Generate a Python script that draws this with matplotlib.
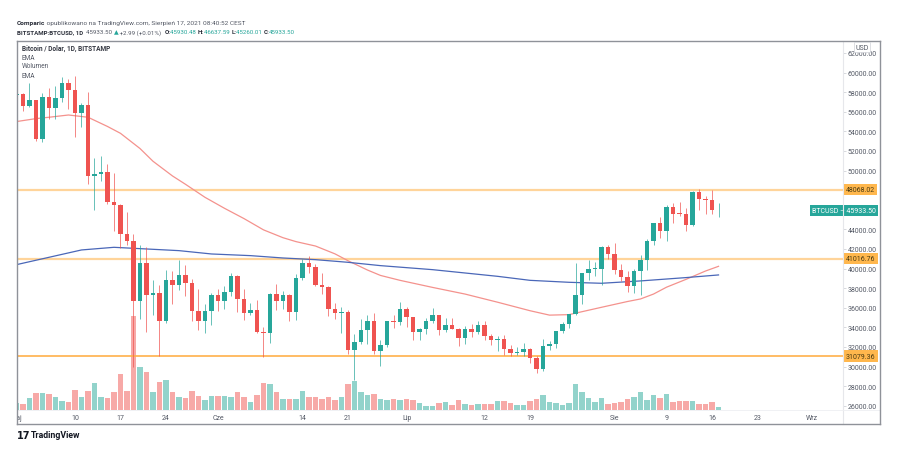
import matplotlib
matplotlib.use('Agg')
import matplotlib.pyplot as plt
from matplotlib.patches import Rectangle
from matplotlib.lines import Line2D
import matplotlib.transforms as mtransforms

# ---------------- data (daily BTCUSD, 1 May 2021 = day 0 ... 17 Aug 2021 = day 108)
opens = [57750, 57830, 56580, 57150, 53240, 57500, 56400, 57400, 58900, 58270,
         55880, 56720, 49400, 49700, 49900, 46750, 46450, 43550, 42850, 36700,
         40600, 37300, 37500, 34700, 38800, 38350, 39300, 38500, 35700, 34650,
         35700, 37330, 36700, 37570, 39200, 36870, 35500, 35800, 33570, 33400,
         37400, 36700, 37340, 35550, 39020, 40520, 40150, 38350, 38100, 35830,
         35500, 35600, 31650, 32500, 33700, 34700, 31600, 32250, 34700, 34500,
         35900, 35050, 33540, 33800, 34700, 35300, 33700, 34200, 33870, 32900,
         33800, 33500, 34280, 33100, 32700, 32800, 31800, 31400, 31500, 31780,
         30830, 29800, 32150, 32300, 33600, 34300, 35400, 37300, 39500, 40000,
         40000, 42200, 41500, 39850, 39150, 38200, 39750, 40850, 42800, 44600,
         43800, 46300, 45600, 45550, 44400, 47800, 47100, 47000, 45930]
highs = [58500, 57950, 58950, 57200, 57950, 58400, 58650, 59500, 59300, 59600,
         56900, 58000, 51300, 51500, 50700, 49800, 46600, 45800, 43550, 42450,
         42200, 38850, 38300, 39850, 39800, 40850, 40400, 38900, 37900, 36400,
         37500, 37900, 38200, 39500, 39300, 37900, 36450, 36800, 34000, 37500,
         38400, 37700, 37450, 39400, 41000, 41300, 40500, 39500, 38200, 36450,
         36100, 35750, 33300, 34850, 35250, 35500, 32700, 34700, 35300, 36600,
         36100, 35100, 33950, 34950, 35950, 35300, 35000, 35000, 33900, 34100,
         34300, 34650, 34700, 33350, 33100, 33200, 32250, 31950, 32400, 31900,
         31050, 32850, 32600, 33650, 34500, 35400, 40550, 39550, 40900, 40650,
         42300, 42450, 42600, 40450, 39800, 39950, 41400, 43000, 44700, 45300,
         46450, 46700, 46800, 46200, 47900, 48150, 47400, 48050, 46640]
lows = [57050, 56050, 56500, 53000, 52900, 55300, 55300, 56950, 56300, 53450,
        54400, 48600, 46000, 48900, 46600, 43850, 42150, 42400, 30000, 34900,
        33500, 35300, 31100, 34400, 36400, 37800, 37200, 34700, 33700, 33400,
        34200, 35700, 35900, 37200, 35600, 34800, 35300, 33400, 31000, 32400,
        35800, 35900, 34600, 34750, 38800, 39500, 38200, 37400, 35150, 34850,
        33400, 31300, 28600, 32300, 32300, 31300, 30100, 32000, 33900, 34250,
        34000, 32700, 32700, 33350, 34400, 33200, 33500, 33800, 32100, 32300,
        33050, 33350, 32700, 32250, 31600, 31150, 31050, 31200, 31100, 30400,
        29300, 29500, 31700, 31900, 33400, 33900, 35300, 36400, 38800, 39200,
        38300, 41000, 39400, 38700, 37600, 37500, 37300, 39900, 42450, 43150,
        42800, 44600, 45400, 43800, 44300, 45950, 45600, 45600, 45260]
closes = opens[1:] + [45933.50]
volumes = [2920, 2400, 4680, 6920, 6920, 6520, 5320, 3720, 3320, 8000,
           5320, 7720, 10800, 5080, 4680, 7080, 14520, 7600, 37480, 17080,
           15320, 7080, 11080, 12120, 7080, 5320, 4920, 7600, 5720, 4000,
           5480, 5480, 5480, 5320, 7080, 5080, 3320, 6000, 10800, 10280,
           7080, 4520, 4520, 4400, 7600, 5080, 5080, 4520, 5320, 4120,
           5080, 10280, 11600, 7320, 5880, 6280, 4280, 4120, 4280, 4120,
           4280, 4120, 2680, 1720, 1720, 2920, 3080, 2120, 3880, 2280,
           2000, 2280, 2520, 2520, 3480, 3480, 2680, 2120, 2000, 3480,
           4280, 6120, 3080, 2800, 2120, 2800, 10400, 7200, 4920, 3080,
           4680, 2280, 2800, 3200, 4280, 5080, 7080, 4000, 6120, 4680,
           6280, 3320, 3600, 3480, 3720, 2520, 2400, 3200, 1200]

# EMA readings (day index, price)
ema_fast_days = [0, 3, 5, 8, 11, 14, 16, 19, 21, 24, 26, 29, 32, 35, 38, 41, 43,
                 46, 49, 51, 54, 56, 59, 64, 69, 74, 79, 82, 85, 88, 90, 94, 96,
                 98, 100, 103, 106, 108]
ema_fast = [55000, 55300, 55440, 55670, 55440, 54500, 53800, 52250, 50950, 49450,
            48600, 47270, 46150, 45100, 43950, 43150, 42750, 42300, 41500, 40800,
            39850, 39300, 38800, 38080, 37400, 36570, 35700, 35250, 35300, 35750,
            36050, 36640, 36900, 37400, 38100, 38900, 39750, 40230]
ema_slow_days = [0, 5, 10, 15, 20, 25, 30, 36, 41, 46, 51, 56, 64, 69, 74, 79,
                 85, 90, 96, 103, 108]
ema_slow = [40400, 41150, 41900, 42170, 42000, 41830, 41490, 41320, 41080, 40910,
            40640, 40300, 39890, 39550, 39210, 38800, 38600, 38500, 38740, 39080,
            39350]

levels = [48068.02, 41016.76, 31079.36]
price_ticks = [26000, 28000, 30000, 32000, 34000, 36000, 38000, 40000, 42000,
               44000, 50000, 52000, 54000, 56000, 58000, 60000, 62000]
date_tick_days = [0, 9, 16, 23, 31, 44, 51, 60.1, 72, 79, 92, 100, 107, 114, 122.4]
date_tick_labels = ['Maj', '10', '17', '24', 'Cze', '14', '21', 'Lip', '12', '19',
                    'Sie', '9', '16', '23', 'Wrz']
last_price = 45933.50

# ---------------- styling
UP = '#26a69a'
DN = '#ef5350'
UPV = '#92d3cb'
DNV = '#f7a9a7'
FONT = ['Roboto', 'DejaVu Sans']
plt.rcParams['font.family'] = FONT

W, H = 910, 477
fig = plt.figure(figsize=(W / 100, H / 100), dpi=100)
fig.patch.set_facecolor('white')


def rect(l, t, r, b):
    return [l / W, 1 - b / H, (r - l) / W, (b - t) / H]


PL, PT, PR, PB = 17, 42, 843, 411
xlim = (0.08, 127.15)
ylim = (25570, 63220)

ax_vol = fig.add_axes(rect(PL, PT, PR, PB))
ax = fig.add_axes(rect(PL, PT, PR, PB), sharex=ax_vol)
for a in (ax_vol, ax):
    a.set_xlim(*xlim)
    for s in a.spines.values():
        s.set_visible(False)
ax.patch.set_visible(False)
ax_vol.set_ylim(0, max(volumes) * 3.94)
ax_vol.set_yticks([])
ax_vol.tick_params(bottom=False, labelbottom=False)
ax.tick_params(bottom=False, labelbottom=False)
ax.set_ylim(*ylim)

n = len(opens)
days = list(range(n))
# volume
vcols = [UPV if c >= o else DNV for o, c in zip(opens, closes)]
ax_vol.bar(days, volumes, width=0.86, color=vcols, linewidth=0)

# EMAs
ax.plot(ema_fast_days, ema_fast, color='#f4928d', lw=0.9, zorder=2, solid_joinstyle='round')
ax.plot(ema_slow_days, ema_slow, color='#4a67b8', lw=0.9, zorder=2, solid_joinstyle='round')

# levels
for k, lv in enumerate(levels):
    col = '#ffd49a' if k < 2 else '#ffb04a'
    ax.axhline(lv, color=col, lw=1.6 if k < 2 else 1.2, zorder=1)

# candles
for i in days:
    o, h, l, c = opens[i], highs[i], lows[i], closes[i]
    col = UP if c >= o else DN
    ax.vlines(i, l, h, color=col, lw=0.7, alpha=0.7, zorder=3)
    lo = min(o, c)
    ht = max(abs(c - o), 90)
    ax.add_patch(Rectangle((i - 0.36, lo), 0.72, ht, facecolor=col, edgecolor='none', zorder=4))

# price scale on right
ax.yaxis.tick_right()
ax.set_yticks(price_ticks)
ax.set_yticklabels([f'{p:.2f}' for p in price_ticks])
ax.tick_params(axis='y', length=2, width=0.5, color='#c8cad0', pad=1.5,
               labelsize=5, labelcolor='#555a66')

# level labels
trans = mtransforms.blended_transform_factory(fig.transFigure, ax.transData)
for k, lv in enumerate(levels):
    ax.text(846 / W, lv, f'{lv:.2f}', transform=trans, ha='left', va='center',
            fontsize=5, color='#4a3b12', zorder=10, clip_on=False,
            bbox=dict(boxstyle='square,pad=0.3', fc='#ffb74d', ec='none'))
ax.text(875.5 / W, last_price, f'BTCUSD \u2013 {last_price:.2f}', transform=trans,
        ha='right', va='center', fontsize=5, color='white', zorder=10, clip_on=False,
        bbox=dict(boxstyle='square,pad=0.3', fc=UP, ec='none'))

# USD label
fig.text(862 / W, 1 - 48 / H, 'USD', fontsize=5, color='#555a66', ha='center', va='center',
         bbox=dict(boxstyle='square,pad=0.25', fc='white', ec='#d0d2d8', lw=0.5))

# time axis strip
ax_t = fig.add_axes(rect(PL, PB, PR, 425), sharex=ax_vol)
ax_t.set_xlim(*xlim)
ax_t.set_ylim(0, 1)
ax_t.axis('off')
for d, lab in zip(date_tick_days, date_tick_labels):
    ax_t.text(d, 0.45, lab, ha='center', va='center', fontsize=5, color='#555a66', clip_on=True)

# separators and frame
def fline(x0, y0, x1, y1, color, lw):
    fig.add_artist(Line2D([x0 / W, x1 / W], [1 - y0 / H, 1 - y1 / H], transform=fig.transFigure,
                          color=color, lw=lw))

fline(PR, PT, PR, 425, '#e6e7eb', 0.8)
fline(PL, PB, 880, PB, '#eeeff2', 0.6)
fline(PL, PT, 880, PT, '#8f9299', 1.0)
fline(PL, 425, 880, 425, '#8f9299', 1.0)
fline(PL, PT, PL, 425, '#8f9299', 1.0)
fline(880, PT, 880, 425, '#8f9299', 1.0)

# legend inside pane
fig.text(22 / W, 1 - 49 / H, 'Bitcoin / Dolar, 1D, BITSTAMP', fontsize=4.7, fontweight='bold',
         color='#333640', va='center')
for yy, t in [(58, 'EMA'), (67, 'Wolumen'), (77, 'EMA')]:
    fig.text(22 / W, 1 - yy / H, t, fontsize=4.7, color='#555a66', va='center')

# header text pieces
fig.canvas.draw()
rend = fig.canvas.get_renderer()


def pieces(x_px, y_px, parts, fs):
    x = x_px
    for txt, col, wt in parts:
        t = fig.text(x / W, 1 - y_px / H, txt, fontsize=fs, color=col, fontweight=wt,
                     va='center', ha='left')
        bb = t.get_window_extent(renderer=rend)
        x += bb.width


pieces(17, 24, [('Comparic', '#2a2e39', 'bold'),
                (' opublikowano na TradingView.com, Sierpie\u0144 17, 2021 08:40:52 CEST', '#555a66', 'normal')],
       4.65)
pieces(17, 33, [('BITSTAMP:BTCUSD, 1D', '#2a2e39', 'bold'),
                ('  45933.50 ', '#555a66', 'normal'), ('\u25b2', UP, 'normal'),
                (' +2.99 (+0.01%)  ', '#555a66', 'normal'),
                ('O:', '#2a2e39', 'bold'), ('45930.48 ', UP, 'normal'),
                ('H:', '#2a2e39', 'bold'), ('46637.59 ', UP, 'normal'),
                ('L:', '#2a2e39', 'bold'), ('45260.01 ', UP, 'normal'),
                ('C:', '#2a2e39', 'bold'), ('45933.50', UP, 'normal')],
       4.45)

# TradingView logo text
fig.text(17 / W, 1 - 436 / H, '17', fontsize=7, fontweight='heavy', color='#131722',
         va='center', family=['DejaVu Sans'])
fig.text(31 / W, 1 - 436 / H, 'TradingView', fontsize=6.3, fontweight='bold', color='#131722',
         va='center')

fig.savefig('out.png', dpi=100)
